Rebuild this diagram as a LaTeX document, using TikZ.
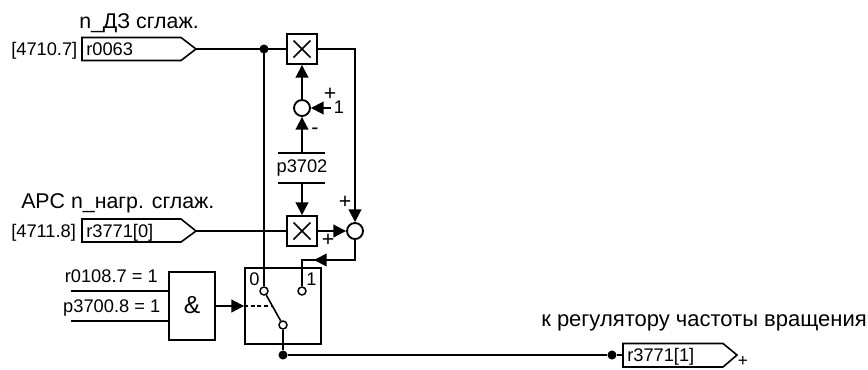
\documentclass[tikz,border=0pt]{standalone}
\usepackage{fontspec}
\setmainfont{Liberation Sans}
\usetikzlibrary{arrows.meta}
\tikzset{
 x=0.75pt,y=-0.75pt,
 ln/.style={draw=black,line width=1.4pt},
 arr/.style={ln,-{Triangle[length=9.5pt,width=9.5pt]}},
 lab/.style={font=\fontsize{13.7pt}{15pt}\selectfont,inner sep=0pt},
 sgn/.style={font=\fontsize{16pt}{16pt}\selectfont,inner sep=0pt},
 cyr/.style={font=\fontsize{16pt}{17pt}\selectfont,inner sep=0pt,anchor=base west},
 box/.style={ln,fill=white,minimum width=22.5pt,minimum height=22.5pt,inner sep=0pt},
 sumc/.style={circle,ln,fill=white,minimum size=12pt,inner sep=0pt},
 cont/.style={circle,draw=black,line width=1.1pt,fill=white,minimum size=6pt,inner sep=0pt},
 dotn/.style={circle,fill=black,minimum size=6.8pt,inner sep=0pt},
}
\begin{document}
\begin{tikzpicture}
\useasboundingbox (0,0) rectangle (868,369);
% texts
\node[cyr] (t1) at (79,28) {n\_ДЗ сглаж.};
\node[lab,anchor=base west] (t2) at (11,55) {[4710.7]};
\node[lab,anchor=base west] (t3) at (86,55) {r0063};
\node[cyr] (t4) at (21,208) {APC n\_нагр. сглаж.};
\node[lab,anchor=base west] (t5) at (11,237) {[4711.8]};
\node[lab,anchor=base west] (t6) at (86,237) {r3771[0]};
% input tags
\coordinate (tipA) at (196,49);
\coordinate (tipB) at (196,231);
\draw[ln,line width=1.2pt] (82,37.5) -- (181,37.5) -- (tipA) -- (181,60.5) -- (82,60.5) -- cycle;
\draw[ln,line width=1.2pt] (82,219) -- (181,219) -- (tipB) -- (181,242) -- (82,242) -- cycle;
% multipliers
\node[box] (m1) at (302,49) {};
\node[box] (m2) at (302,231) {};
\foreach \m in {m1,m2}{\draw[line width=1.1pt] ([shift={(-8.5,-8.5)}]\m.center) -- ([shift={(8.5,8.5)}]\m.center) ([shift={(8.5,-8.5)}]\m.center) -- ([shift={(-8.5,8.5)}]\m.center);}
\coordinate (d1) at (264,49);
\draw[ln] (tipA) -- (m1.west);
\draw[ln] (tipB) -- (m2.west);
% switch
\node[ln,fill=white,minimum width=57pt,minimum height=57pt,inner sep=0pt] (sw) at (283,306) {};
\node[lab] (s0) at (254.5,279) {0};
\node[lab] (s1) at (311.5,279) {1};
\node[cont] (c0) at (264,291) {};
\node[cont] (c1) at (302,291) {};
\node[cont] (c2) at (283,325) {};
\draw[line width=1.2pt] (c0) -- (c2);
\coordinate (dsh) at (273,306);
\draw[line width=1.1pt,dash pattern=on 3pt off 2pt] (sw.west) -- (dsh);
% long vertical
\draw[ln] (d1) -- (c0);
\node[dotn] (dd1) at (d1) {};
% sum 1
\node[sumc] (s1c) at (302,108) {};
\coordinate (p3t) at (302,153);
\coordinate (p3b) at (302,183);
\draw[ln] (278,153) -- (p3t) -- (325,153);
\draw[ln] (278,183) -- (p3b) -- (325,183);
\node[lab] (p3) at (302,168) {p3702};
\draw[arr] (p3t) -- (s1c);
\draw[arr] (s1c) -- (m1);
\node[lab] (one) at (339,107.5) {1};
\coordinate (oneL) at (331,108);
\draw[arr] (oneL) -- (s1c);
\node[sgn] (pl1) at (330,94) {+};
\node[sgn] (mn1) at (315,131) {-};
% sum 2
\node[sumc] (s2c) at (355,231) {};
\draw[arr] (p3b) -- (m2.north);
\draw[arr] (m2) -- (s2c);
\draw[arr] (m1.east) -| (s2c.north);
\node[sgn] (pl2) at (345,202) {+};
\node[sgn] (pl3) at (328,240) {+};
\coordinate (ca) at (355,260);
\coordinate (cb) at (302,260);
\draw[ln] (s2c) -- (ca) -- (cb) -- (c1);
\coordinate (hd) at (328,260);
\coordinate (hdt) at (314,260);
\draw[arr] (hd) -- (hdt);
% AND
\node[ln,fill=white,minimum width=34.5pt,minimum height=51pt,inner sep=0pt] (and) at (192,306) {};
\node[font=\fontsize{18.5pt}{19pt}\selectfont,inner sep=0pt] (amp) at (192,305) {\&};
\node[lab,anchor=base east] (r1) at (158,282) {r0108.7 = 1};
\node[lab,anchor=base east] (r2) at (160.5,312) {p3700.8 = 1};
\coordinate (i1) at (71,291);
\coordinate (i2) at (71,321);
\draw[ln] (i1) -- (169,291);
\draw[ln] (i2) -- (169,321);
\draw[arr] (and.east) -- (sw.west);
% output
\node[dotn] (d2) at (283,355) {};
\draw[ln] (c2) -- (d2);
\node[dotn] (d3) at (612,355) {};
\draw[ln] (d2) -- (d3);
\coordinate (tipC) at (737,355);
\draw[ln,line width=1.2pt] (623,343.5) -- (723,343.5) -- (tipC) -- (723,367) -- (623,367) -- cycle;
\draw[ln] (d3) -- (623,355);
\node[lab,anchor=base west] (t7) at (627,361) {r3771[1]};
\node[font=\fontsize{13pt}{13pt}\selectfont,inner sep=0pt] (pl4) at (743,361) {+};
\node[cyr,font=\fontsize{16.5pt}{17pt}\selectfont] (t8) at (541,326) {к регулятору частоты вращения};
\end{tikzpicture}
\end{document}
